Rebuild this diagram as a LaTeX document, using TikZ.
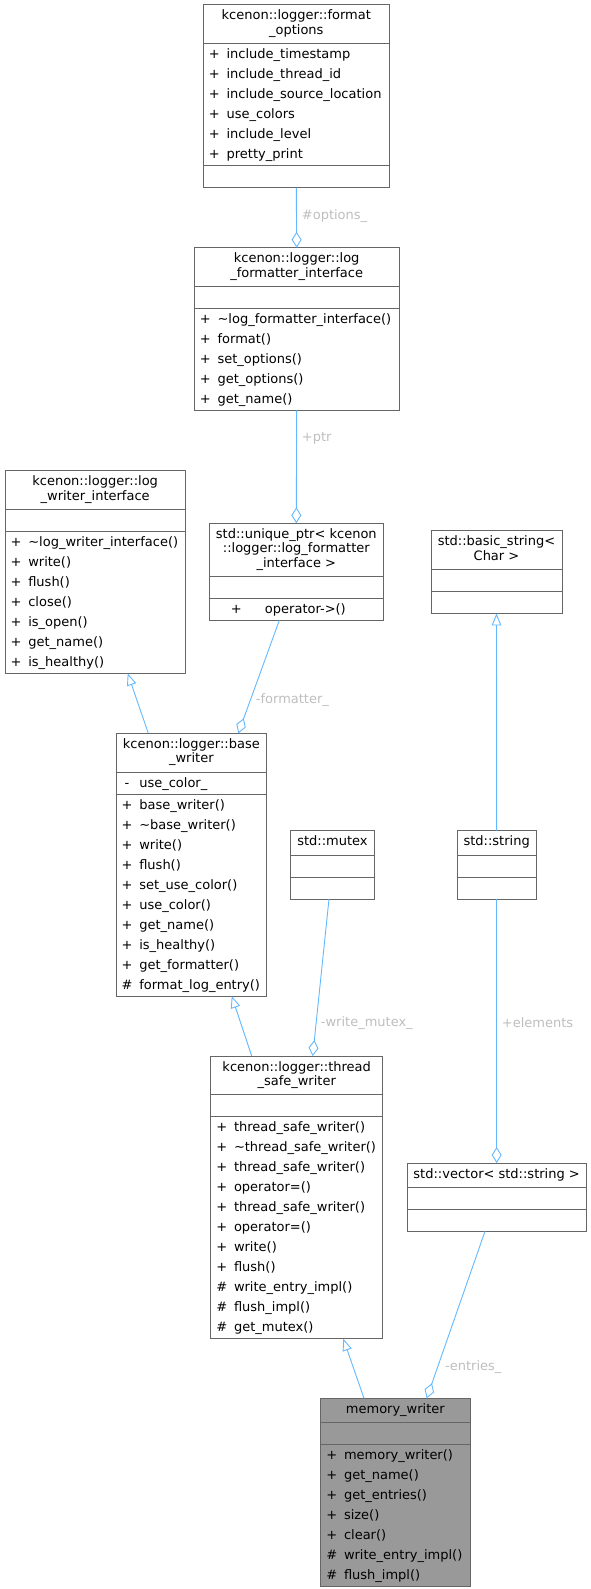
\documentclass[tikz,border=0pt]{standalone}
\usepackage{fontspec}
\setmainfont{DejaVu Sans}
\usetikzlibrary{shapes.multipart,arrows.meta,calc}

\definecolor{boxgray}{HTML}{666666}
\definecolor{edgeblue}{HTML}{63B8FF}
\definecolor{lblgray}{HTML}{BEBEBE}
\definecolor{focusgray}{HTML}{999999}

\newcommand{\clsname}[1]{{\fontsize{13}{14.4}\selectfont\begin{tabular}{@{}c@{}}\rule{0pt}{14pt}#1\rule[-8.3pt]{0pt}{0pt}\end{tabular}}}
\newcommand{\mbr}[2]{\makebox[13pt]{#1}\hspace{5.8pt}#2}

\begin{document}
\begin{tikzpicture}[x=1pt,y=-1pt,
  cls/.style={rectangle split,rectangle split parts=3,draw=boxgray,line width=1pt,fill=white,
    rectangle split part align={center,left,left},inner xsep=4.5pt,inner ysep=0.5pt,outer sep=0pt,
    anchor=north west,font=\fontsize{13}{20}\selectfont},
  inherit/.style={draw=edgeblue,line width=0.9pt,-{Triangle[open,length=12pt,width=9.5pt]}},
  aggr/.style={draw=edgeblue,line width=0.9pt,-{Diamond[open,length=16pt,width=10pt]}},
  lbl/.style={text=lblgray,anchor=west,inner sep=0pt,font=\fontsize{13}{15}\selectfont}]
\useasboundingbox (0,0) rectangle (591,1589);

\node[cls,minimum width=186pt] (fo) at (203.3,5) {\clsname{kcenon::logger::format\\\_options}
  \nodepart{two}\begin{tabular}{@{}l@{}}\mbr{+}{include\_timestamp}\\\mbr{+}{include\_thread\_id}\\
    \mbr{+}{include\_source\_location}\\\mbr{+}{use\_colors}\\\mbr{+}{include\_level}\\\mbr{+}{pretty\_print}\end{tabular}
  \nodepart{three}\strut};

\node[cls,minimum width=204.7pt] (lfi) at (194.3,247.7) {\clsname{kcenon::logger::log\\\_formatter\_interface}
  \nodepart{two}\strut
  \nodepart{three}\begin{tabular}{@{}l@{}}\mbr{+}{\textasciitilde log\_formatter\_interface()}\\\mbr{+}{format()}\\
    \mbr{+}{set\_options()}\\\mbr{+}{get\_options()}\\\mbr{+}{get\_name()}\end{tabular}};

\node[cls,minimum width=180.3pt] (lwi) at (5,470.7) {\clsname{kcenon::logger::log\\\_writer\_interface}
  \nodepart{two}\strut
  \nodepart{three}\begin{tabular}{@{}l@{}}\mbr{+}{\textasciitilde log\_writer\_interface()}\\\mbr{+}{write()}\\
    \mbr{+}{flush()}\\\mbr{+}{close()}\\\mbr{+}{is\_open()}\\\mbr{+}{get\_name()}\\\mbr{+}{is\_healthy()}\end{tabular}};

\node[cls,minimum width=174pt] (up) at (209.3,523.3) {\clsname{std::unique\_ptr< kcenon\\::logger::log\_formatter\\\_interface >}
  \nodepart{two}\strut
  \nodepart{three}\hspace{15.9pt}\makebox[13pt]{+}\hspace{22.3pt}operator->()\strut};

\node[cls,minimum width=131pt] (bs) at (431,530.7) {\clsname{std::basic\_string<\\Char >}
  \nodepart{two}\strut
  \nodepart{three}\strut};

\node[cls,minimum width=150.7pt] (bw) at (116,733.3) {\clsname{kcenon::logger::base\\\_writer}
  \nodepart{two}\begin{tabular}{@{}l@{}}\mbr{-}{use\_color\_}\end{tabular}
  \nodepart{three}\begin{tabular}{@{}l@{}}\mbr{+}{base\_writer()}\\\mbr{+}{\textasciitilde base\_writer()}\\
    \mbr{+}{write()}\\\mbr{+}{flush()}\\\mbr{+}{set\_use\_color()}\\\mbr{+}{use\_color()}\\
    \mbr{+}{get\_name()}\\\mbr{+}{is\_healthy()}\\\mbr{+}{get\_formatter()}\\\mbr{\#}{format\_log\_entry()}\end{tabular}};

\node[cls,minimum width=84.4pt] (mtx) at (290.3,830.7) {\clsname{std::mutex}
  \nodepart{two}\strut
  \nodepart{three}\strut};

\node[cls,minimum width=78.7pt] (str) at (457.3,830.7) {\clsname{std::string}
  \nodepart{two}\strut
  \nodepart{three}\strut};

\node[cls,minimum width=172pt] (tsw) at (210.7,1056) {\clsname{kcenon::logger::thread\\\_safe\_writer}
  \nodepart{two}\strut
  \nodepart{three}\begin{tabular}{@{}l@{}}\mbr{+}{thread\_safe\_writer()}\\\mbr{+}{\textasciitilde thread\_safe\_writer()}\\
    \mbr{+}{thread\_safe\_writer()}\\\mbr{+}{operator=()}\\\mbr{+}{thread\_safe\_writer()}\\\mbr{+}{operator=()}\\
    \mbr{+}{write()}\\\mbr{+}{flush()}\\\mbr{\#}{write\_entry\_impl()}\\\mbr{\#}{flush\_impl()}\\\mbr{\#}{get\_mutex()}\end{tabular}};

\node[cls,minimum width=178.7pt] (vec) at (407.3,1163) {\clsname{std::vector< std::string >}
  \nodepart{two}\strut
  \nodepart{three}\strut};

\node[cls,fill=focusgray,minimum width=149.3pt] (mem) at (320.7,1398.3) {\clsname{memory\_writer}
  \nodepart{two}\strut
  \nodepart{three}\begin{tabular}{@{}l@{}}\mbr{+}{memory\_writer()}\\\mbr{+}{get\_name()}\\\mbr{+}{get\_entries()}\\
    \mbr{+}{size()}\\\mbr{+}{clear()}\\\mbr{\#}{write\_entry\_impl()}\\\mbr{\#}{flush\_impl()}\end{tabular}};

\draw[aggr] (fo.south) -- (lfi.north);
\draw[aggr] (lfi.south) -- (up.north);
\draw[inherit] ($(bw.north west)+(32.3,0)$) -- ($(lwi.south west)+(122.7,0)$);
\draw[aggr] ($(up.south west)+(70,0)$) -- ($(bw.north west)+(122.3,0)$);
\draw[inherit] ($(tsw.north west)+(41,0)$) -- ($(bw.south west)+(115.7,0)$);
\draw[aggr] ($(mtx.south west)+(38.7,0)$) -- ($(tsw.north west)+(102,0)$);
\draw[inherit] (str.north) -- (bs.south);
\draw[aggr] (str.south) -- (vec.north);
\draw[inherit] ($(mem.north west)+(43.3,0)$) -- ($(tsw.south west)+(132.6,0)$);
\draw[aggr] ($(vec.south west)+(77.7,0)$) -- ($(mem.north west)+(106,0)$);

\node[lbl] (l-options) at (301.7,216) {\#options\_};
\node[lbl] (l-ptr) at (301.7,438) {+ptr};
\node[lbl] (l-formatter) at (255.7,700) {-formatter\_};
\node[lbl] (l-mutex) at (320.7,1023) {-write\_mutex\_};
\node[lbl] (l-elements) at (501.7,1023) {+elements};
\node[lbl] (l-entries) at (445,1366.7) {-entries\_};
\end{tikzpicture}
\end{document}
